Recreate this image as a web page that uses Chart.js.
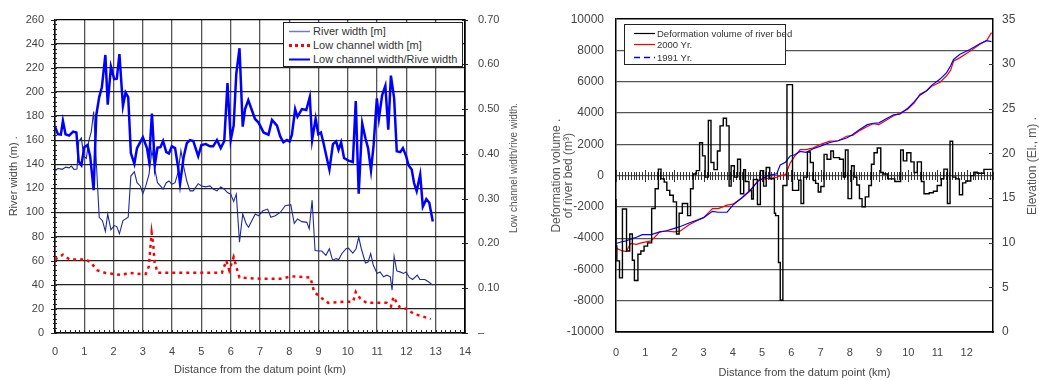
<!DOCTYPE html>
<html>
<head>
<meta charset="utf-8">
<script src="https://cdn.jsdelivr.net/npm/chart.js@4.4.0/dist/chart.umd.min.js"></script>
<style>
  body { margin: 0; background: #fff; width: 1039px; height: 380px; position: relative; overflow: hidden;
         font-family: "Liberation Sans", Arial, sans-serif; }
  canvas { position: absolute; top: 0; }
  #leftChart { left: 0; }
  #rightChart { left: 540px; }
  .legend { position: absolute; background: #fff; border: 1px solid #222; box-sizing: border-box; color: #333; }
  .legend .row { position: absolute; left: 0; white-space: nowrap; height: 13px; line-height: 13px; }
  .legend svg { position: absolute; top: 3px; }
  .legend span { position: absolute; }
</style>
</head>
<body>
<canvas id="leftChart" width="522" height="380"></canvas>
<canvas id="rightChart" width="499" height="380"></canvas>

<div class="legend" style="left:283px;top:22px;width:180px;height:45px;font-size:11px">
  <div class="row" style="top:2px"><svg width="24" height="7" style="left:5px"><line x1="0" y1="3.5" x2="21" y2="3.5" stroke="#6f7cc4" stroke-width="1.5"/></svg><span style="left:29px">River width [m]</span></div>
  <div class="row" style="top:16px"><svg width="24" height="7" style="left:5px"><line x1="0" y1="3.5" x2="21" y2="3.5" stroke="#ff0000" stroke-width="3" stroke-dasharray="3 3"/></svg><span style="left:29px">Low channel width [m]</span></div>
  <div class="row" style="top:30px"><svg width="24" height="7" style="left:5px"><line x1="0" y1="3.5" x2="21" y2="3.5" stroke="#0000ff" stroke-width="2"/></svg><span style="left:29px">Low channel width/Rive width</span></div>
</div>

<div class="legend" style="left:624px;top:24px;width:162px;height:41px;font-size:9.5px">
  <div class="row" style="top:2px"><svg width="24" height="7" style="left:9px"><line x1="0" y1="3.5" x2="21" y2="3.5" stroke="#000" stroke-width="1.2"/></svg><span style="left:32px">Deformation volume of river bed</span></div>
  <div class="row" style="top:13px"><svg width="24" height="7" style="left:9px"><line x1="0" y1="3.5" x2="21" y2="3.5" stroke="#ff0000" stroke-width="1.2"/></svg><span style="left:32px">2000 Yr.</span></div>
  <div class="row" style="top:26px"><svg width="24" height="7" style="left:9px"><line x1="0" y1="3.5" x2="21" y2="3.5" stroke="#0000ff" stroke-width="1.4" stroke-dasharray="6 4"/></svg><span style="left:32px">1991 Yr.</span></div>
</div>

<script>
// ---- left chart data (distance in km) ----
const ratioDist = [0, 0.1, 0.2, 0.27, 0.36, 0.48, 0.62, 0.73, 0.81, 0.9, 1.0, 1.11, 1.2, 1.32, 1.41, 1.51, 1.6, 1.72, 1.8, 1.91,
  2.02, 2.11, 2.2, 2.32, 2.41, 2.5, 2.59, 2.71, 2.8, 3.0, 3.14, 3.21, 3.31, 3.41, 3.5, 3.6, 3.69, 3.8, 3.89, 3.99,
  4.1, 4.2, 4.27, 4.39, 4.5, 4.61, 4.72, 4.89, 5.0, 5.15, 5.29, 5.4, 5.53, 5.66, 5.78, 5.89, 6.0, 6.1, 6.19, 6.3,
  6.41, 6.49, 6.6, 6.72, 6.83, 6.95, 7.12, 7.29, 7.41, 7.58, 7.69, 7.8, 7.92, 8.01, 8.09, 8.2, 8.28, 8.43, 8.58, 8.7,
  8.78, 8.9, 8.99, 9.08, 9.17, 9.28, 9.37, 9.49, 9.6, 9.68, 9.77, 9.87, 10.02, 10.17, 10.27, 10.37, 10.49, 10.6, 10.69, 10.79,
  10.88, 10.99, 11.06, 11.17, 11.28, 11.38, 11.47, 11.58, 11.67, 11.79, 11.88, 11.99, 12.07, 12.18, 12.26, 12.35, 12.47, 12.56, 12.68, 12.78, 12.9];
const ratio = [0.461, 0.444, 0.443, 0.474, 0.444, 0.441, 0.45, 0.448, 0.383, 0.375, 0.415, 0.42, 0.395, 0.319, 0.487, 0.527, 0.549, 0.621, 0.51, 0.595,
  0.567, 0.568, 0.623, 0.507, 0.537, 0.527, 0.402, 0.378, 0.413, 0.437, 0.413, 0.385, 0.49, 0.375, 0.414, 0.415, 0.429, 0.404, 0.401, 0.417,
  0.413, 0.372, 0.333, 0.392, 0.424, 0.431, 0.429, 0.395, 0.42, 0.422, 0.417, 0.417, 0.431, 0.413, 0.429, 0.558, 0.431, 0.463, 0.579, 0.636,
  0.461, 0.5, 0.52, 0.498, 0.478, 0.47, 0.448, 0.443, 0.476, 0.463, 0.439, 0.426, 0.431, 0.428, 0.443, 0.5, 0.483, 0.5, 0.498, 0.527,
  0.431, 0.479, 0.444, 0.448, 0.424, 0.391, 0.365, 0.422, 0.428, 0.409, 0.426, 0.391, 0.385, 0.382, 0.518, 0.311, 0.468, 0.435, 0.413, 0.363,
  0.42, 0.524, 0.479, 0.531, 0.552, 0.454, 0.575, 0.524, 0.406, 0.404, 0.413, 0.395, 0.375, 0.365, 0.335, 0.317, 0.354, 0.282, 0.299, 0.291, 0.249];

const riverDist = [0, 0.1, 0.25, 0.37, 0.48, 0.56, 0.65, 0.75, 0.81, 0.9, 0.98, 1.07, 1.15, 1.24, 1.32, 1.51, 1.62, 1.72, 1.8, 1.91,
  2.02, 2.11, 2.2, 2.32, 2.5, 2.59, 2.71, 2.8, 2.91, 3.0, 3.1, 3.21, 3.31, 3.41, 3.5, 3.6, 3.69, 3.8, 3.89, 3.99,
  4.1, 4.2, 4.3, 4.39, 4.5, 4.61, 4.72, 4.89, 5.0, 5.15, 5.29, 5.4, 5.53, 5.66, 5.78, 5.89, 6.0, 6.1, 6.19, 6.3,
  6.41, 6.53, 6.61, 6.72, 6.84, 6.95, 7.1, 7.26, 7.37, 7.52, 7.69, 7.86, 8.05, 8.17, 8.28, 8.43, 8.6, 8.68, 8.78, 8.88,
  8.99, 9.11, 9.25, 9.37, 9.48, 9.6, 9.69, 9.79, 9.94, 10.02, 10.17, 10.28, 10.37, 10.46, 10.6, 10.69, 10.78, 10.87, 11.0, 11.1,
  11.22, 11.33, 11.45, 11.51, 11.58, 11.67, 11.78, 11.9, 11.99, 12.1, 12.21, 12.37, 12.46, 12.63, 12.75, 12.9];
const riverWidth = [134.4, 136.6, 135.8, 137.6, 137, 138.5, 135.8, 136, 159, 161.8, 146.7, 144.8, 159, 167.3, 183.7, 96, 93.2, 84.4, 98.7, 85.6,
  89.1, 88.3, 82.3, 93.2, 96, 130.2, 133.8, 124.7, 122, 115.7, 122, 131.6, 151.6, 135.8, 124.7, 122, 119.3, 124.7, 126.1, 123.4,
  124.7, 133, 151.4, 138.5, 126.1, 117.9, 117.9, 123.9, 122, 121.2, 122, 119.5, 117.9, 121.2, 119.3, 116.5, 115.2, 109.1, 115.2, 75.4,
  98.7, 90.5, 87.7, 93.2, 98.7, 97.3, 101.4, 102.8, 96, 97.3, 100, 105.6, 106.4, 91, 94.6, 92.4, 91.8, 86.4, 110.2, 68.5,
  68, 68, 64.4, 69.9, 60.3, 61.7, 60.9, 65.8, 69.9, 70.4, 66.3, 69.9, 79.5, 69.9, 58.1, 58.9, 65.8, 56.2, 49.4, 50.7,
  46.6, 48, 46.6, 35.6, 63.6, 51.5, 50.7, 49.4, 50.7, 46.1, 44.4, 48, 44.4, 44.4, 42.5, 39.7];

const lowDist = [0, 0.27, 0.5, 0.8, 1.05, 1.2, 1.45, 1.7, 2.0, 2.3, 2.5, 2.9, 3.1, 3.2, 3.3, 3.36, 3.4, 3.5, 4.0, 5.0,
  5.7, 5.85, 5.95, 6.1, 6.2, 6.3, 7.0, 7.69, 8.09, 8.72, 8.85, 9.05, 9.33, 9.84, 10.18, 10.27, 10.41, 10.64, 11.33, 11.47,
  11.56, 11.65, 11.78, 12.01, 12.24, 12.52, 12.83];
const lowWidth = [61, 65, 61, 61, 61, 59, 52, 50, 49, 48, 50, 49, 49, 55, 83, 72, 59, 50, 50, 50,
  50, 60, 52, 63, 54, 46, 45, 45, 47, 46, 34, 30, 25, 26, 26, 34, 29, 25, 25, 22,
  30, 26, 21, 20, 16, 14, 11.5];

const leftXRange = [0, 14];     // km
const leftYRange = [0, 260];    // m
const ratioRange = [0, 0.7];

// ---- right chart data ----
const defDist = [0, 0.03, 0.12, 0.22, 0.36, 0.47, 0.56, 0.63, 0.75, 0.85, 0.96, 1.08, 1.22, 1.34, 1.45, 1.54, 1.65, 1.74, 1.84, 1.96,
  2.07, 2.16, 2.27, 2.45, 2.55, 2.64, 2.75, 2.86, 2.96, 3.05, 3.16, 3.25, 3.35, 3.47, 3.56, 3.67, 3.78, 3.87, 3.94, 4.05,
  4.16, 4.26, 4.37, 4.43, 4.55, 4.64, 4.70, 4.84, 4.94, 5.05, 5.14, 5.26, 5.42, 5.46, 5.56, 5.62, 5.71, 5.85, 6.04, 6.25,
  6.33, 6.42, 6.55, 6.65, 6.75, 6.83, 6.92, 7.01, 7.12, 7.22, 7.35, 7.44, 7.65, 7.78, 7.85, 7.94, 8.06, 8.15, 8.24, 8.33,
  8.42, 8.53, 8.65, 8.74, 8.83, 8.94, 9.06, 9.15, 9.3, 9.54, 9.74, 9.83, 9.95, 10.09, 10.2, 10.31, 10.45, 10.54, 10.72, 10.86,
  10.99, 11.13, 11.22, 11.34, 11.43, 11.52, 11.63, 11.75, 11.86, 11.97, 12.14, 12.25, 12.36, 12.59, 12.78, 12.9];
const defVolume = [-1500, -4500, -5450, -6540, -2140, -4820, -3730, -5410, -6710, -5030, -4820, -4510, -4300, -2100, -840, 415, -210, -420, -945, -1260,
  -1680, -3730, -2410, -1785, -2560, -840, 100, 315, 2100, 1260, -100, 3520, 840, 380, 1570, 3180, 3670, 3180, -670, 630,
  -100, 1045, -1160, 380, -380, -945, -1500, -250, -1850, 315, -670, 520, -200, -2410, -2560, -5560, -7970, -630, 5820, -945,
  -300, -1785, -100, 1510, 840, -315, -500, -1050, -700, 1360, 1050, 1570, 1150, 1050, -100, 1635, -1470, 630, -100, -600,
  -1470, -1990, -1360, -630, 730, 1465, 1760, 200, 100, -210, -380, 1635, 940, 1465, 880, 200, 880, -380, -1160, -1100,
  -1000, -630, -200, 415, -1785, 2200, -100, -210, -1220, -465, -350, 0, 210, 150, 400, 400];

const elevDist = [0, 0.2, 0.35, 0.5, 0.7, 0.9, 1.2, 1.5, 1.7, 2.0, 2.2, 2.5, 2.8, 3.0, 3.3, 3.5, 3.8, 4.0, 4.3, 4.6,
  4.87, 5.2, 5.5, 5.62, 5.8, 5.96, 6.1, 6.3, 6.5, 6.75, 7.0, 7.32, 7.6, 7.89, 8.1, 8.35, 8.6, 8.8, 9.0, 9.26,
  9.5, 9.71, 9.97, 10.2, 10.4, 10.63, 10.8, 11.09, 11.32, 11.45, 11.55, 11.77, 12.11, 12.45, 12.68, 12.85];
const elev1991 = [9.9, 10.1, 10.2, 10.4, 10.6, 10.9, 10.9, 11.2, 11.3, 11.6, 11.8, 12.2, 12.55, 12.8, 13.5, 13.4, 13.4, 14.2, 15.0, 15.9,
  16.9, 17.5, 17.7, 18.7, 19.0, 19.7, 19.8, 20.2, 20.1, 20.5, 20.8, 21.2, 21.4, 21.7, 22.1, 22.7, 23.2, 23.36, 23.4, 23.9,
  24.3, 24.36, 25.0, 25.75, 26.5, 27.0, 27.6, 28.3, 29.05, 29.8, 30.5, 31.07, 31.6, 32.25, 32.6, 32.5];
const elev2000 = [9.4, 9.1, 9.0, 9.9, 9.8, 10.0, 10.2, 11.2, 11.3, 11.2, 11.3, 12.0, 12.5, 12.8, 13.8, 13.8, 14.2, 14.3, 15.0, 15.8,
  17.0, 17.2, 17.3, 17.5, 17.6, 18.9, 19.6, 20.4, 20.4, 20.6, 21.0, 21.35, 21.4, 21.9, 22.0, 22.56, 23.0, 23.3, 23.2, 23.73,
  24.2, 24.5, 24.9, 25.6, 26.6, 27.0, 27.5, 27.95, 28.7, 29.3, 30.3, 30.7, 31.4, 32.2, 32.6, 33.5];

const rightXRange = [0, 12.9];
const rightXLabels = [0, 1, 2, 3, 4, 5, 6, 7, 8, 9, 10, 11, 12];
const defRange = [-10000, 10000];
const elevRange = [0, 35];

const FONT = '"Liberation Sans", Arial, sans-serif';
const pts = (xs, ys) => xs.map((x, i) => ({ x, y: ys[i] }));

function rotatedText(ctx, text, x, y, size, color) {
    ctx.save();
    ctx.translate(x, y);
    ctx.rotate(-Math.PI / 2);
    ctx.font = size + 'px ' + FONT;
    ctx.fillStyle = color;
    ctx.textAlign = 'center';
    ctx.textBaseline = 'middle';
    ctx.fillText(text, 0, 0);
    ctx.restore();
}

// minor ticks and right-hand title of the left chart
const leftDecor = {
    id: 'leftDecor',
    afterDraw(chart) {
        const { ctx, chartArea: a, scales: { x, y, y2 } } = chart;
        ctx.save();
        ctx.strokeStyle = '#222';
        ctx.lineWidth = 1;
        ctx.beginPath();
        for (let v = 0; v <= 260; v += 4) {
            const py = Math.round(y.getPixelForValue(v)) + 0.5;
            const len = v % 20 === 0 ? 4 : 2;
            ctx.moveTo(a.left - len, py); ctx.lineTo(a.left + 2, py);
        }
        for (let i = 0; i <= 14 * 6; i++) {
            const px = Math.round(x.getPixelForValue(i / 6)) + 0.5;
            ctx.moveTo(px, a.bottom); ctx.lineTo(px, a.bottom - 3);
        }
        for (let i = 0; i <= 7; i++) {
            const py = Math.round(y2.getPixelForValue(i / 10)) + 0.5;
            ctx.moveTo(a.right - 3, py); ctx.lineTo(a.right + 3, py);
        }
        ctx.stroke();
        ctx.restore();
        rotatedText(ctx, 'Low channel width/rive width.', 514, 168, 10, '#555');
    }
};

// hatched zero line and right-hand title of the right chart
const rightDecor = {
    id: 'rightDecor',
    beforeDatasetsDraw(chart) {
        const { ctx, chartArea: a, scales: { x, y, y2 } } = chart;
        const py0 = Math.round(y.getPixelForValue(0));
        ctx.save();
        ctx.strokeStyle = '#333';
        ctx.lineWidth = 1;
        ctx.beginPath();
        for (let i = 0; i <= 129; i++) {
            const px = Math.round(x.getPixelForValue(i / 10)) + 0.5;
            const len = i % 10 === 0 ? 6 : 4;
            ctx.moveTo(px, py0 - len); ctx.lineTo(px, py0 + len);
        }
        for (let v = 5; v < 35; v += 5) {
            const py = Math.round(y2.getPixelForValue(v)) + 0.5;
            ctx.moveTo(a.right - 4, py); ctx.lineTo(a.right, py);
        }
        ctx.stroke();
        ctx.restore();
    },
    afterDraw(chart) {
        rotatedText(chart.ctx, 'Elevation (El., m) .', 493, 166, 12, '#555');
    }
};

const tickFont = { family: FONT, size: 11 };
const titleFont = { family: FONT, size: 11 };

new Chart(document.getElementById('leftChart'), {
    type: 'line',
    data: {
        datasets: [
            {
                label: 'Low channel width/Rive width',
                data: pts(ratioDist, ratio),
                yAxisID: 'y2',
                borderColor: '#0000ff',
                borderWidth: 2.5,
                order: 1
            },
            {
                label: 'River width [m]',
                data: pts(riverDist, riverWidth),
                yAxisID: 'y',
                borderColor: '#1f2a9a',
                borderWidth: 1.1,
                order: 2
            },
            {
                label: 'Low channel width [m]',
                data: pts(lowDist, lowWidth),
                yAxisID: 'y',
                borderColor: '#ff0000',
                borderWidth: 2.5,
                borderDash: [3, 4],
                order: 3
            }
        ]
    },
    options: {
        responsive: false,
        animation: false,
        events: [],
        layout: { padding: { top: 17, left: 0, right: 0, bottom: 0 } },
        elements: { point: { radius: 0 }, line: { tension: 0 } },
        plugins: { legend: { display: false }, tooltip: { enabled: false } },
        scales: {
            x: {
                type: 'linear',
                min: leftXRange[0],
                max: leftXRange[1],
                afterFit: s => { s.height = 47; },
                ticks: { stepSize: 1, color: '#444', font: tickFont, padding: 12, maxRotation: 0 },
                grid: {
                    color: c => c.tick && c.tick.value === 14 ? '#000' : '#555',
                    lineWidth: c => c.tick && c.tick.value === 14 ? 1.5 : 1.3,
                    drawTicks: false
                },
                border: { color: '#000', width: 1.5 },
                title: { display: true, text: 'Distance from the datum point (km)', color: '#444', font: titleFont, padding: { top: 0, bottom: 3 } }
            },
            y: {
                position: 'left',
                min: leftYRange[0],
                max: leftYRange[1],
                afterFit: s => { s.width = 55; },
                ticks: { stepSize: 20, color: '#444', font: tickFont, padding: 11 },
                grid: {
                    color: c => c.tick && c.tick.value === 260 ? '#000' : '#222',
                    lineWidth: 1.2,
                    drawTicks: false
                },
                border: { color: '#000', width: 1.5 },
                title: { display: true, text: 'River width (m) .', color: '#444', font: titleFont, padding: { top: 7, bottom: 0 } }
            },
            y2: {
                position: 'right',
                min: ratioRange[0],
                max: ratioRange[1],
                afterFit: s => { s.width = 57; },
                ticks: {
                    stepSize: 0.1,
                    color: '#444',
                    font: tickFont,
                    padding: 13,
                    callback: v => Math.abs(v) < 1e-9 ? '–' : v.toFixed(2)
                },
                grid: { drawOnChartArea: false, drawTicks: false },
                border: { color: '#000', width: 1.5 }
            }
        }
    },
    plugins: [leftDecor]
});

new Chart(document.getElementById('rightChart'), {
    type: 'line',
    data: {
        datasets: [
            {
                label: 'Deformation volume of river bed',
                data: pts(defDist, defVolume),
                yAxisID: 'y',
                stepped: 'after',
                borderColor: '#000',
                borderWidth: 1.4,
                order: 1
            },
            {
                label: '2000 Yr.',
                data: pts(elevDist, elev2000),
                yAxisID: 'y2',
                borderColor: '#ff0000',
                borderWidth: 1.2,
                order: 3
            },
            {
                label: '1991 Yr.',
                data: pts(elevDist, elev1991),
                yAxisID: 'y2',
                borderColor: '#0000ff',
                borderWidth: 1.2,
                order: 2
            }
        ]
    },
    options: {
        responsive: false,
        animation: false,
        events: [],
        layout: { padding: { top: 14, left: 0, right: 0, bottom: 0 } },
        elements: { point: { radius: 0 }, line: { tension: 0 } },
        plugins: { legend: { display: false }, tooltip: { enabled: false } },
        scales: {
            x: {
                type: 'linear',
                min: rightXRange[0],
                max: rightXRange[1],
                afterFit: s => { s.height = 48; },
                afterBuildTicks: s => { s.ticks = rightXLabels.map(v => ({ value: v })); },
                ticks: { color: '#444', font: tickFont, padding: 14, maxRotation: 0, autoSkip: false },
                grid: { display: false, drawTicks: false },
                border: { color: '#000', width: 1.5 },
                title: { display: true, text: 'Distance from the datum point (km)', color: '#444', font: titleFont, padding: { top: 0, bottom: 0 } }
            },
            y: {
                position: 'left',
                min: defRange[0],
                max: defRange[1],
                afterFit: s => { s.width = 76; },
                ticks: { stepSize: 2000, color: '#444', font: { family: FONT, size: 12 }, padding: 12, callback: v => String(v) },
                grid: {
                    color: c => c.tick && Math.abs(c.tick.value) === 10000 ? '#000' : '#555',
                    lineWidth: c => c.tick && Math.abs(c.tick.value) === 10000 ? 1.5 : 1.3,
                    drawTicks: false
                },
                border: { color: '#000', width: 1.5 },
                title: {
                    display: true,
                    text: ['Deformation volume .', 'of river bed (m³)'],
                    color: '#555',
                    font: { family: FONT, size: 12, lineHeight: 1.05 },
                    padding: { top: 10, bottom: 0 }
                }
            },
            y2: {
                position: 'right',
                min: elevRange[0],
                max: elevRange[1],
                afterFit: s => { s.width = 46; },
                ticks: { stepSize: 5, color: '#444', font: { family: FONT, size: 12 }, padding: 9 },
                grid: { drawOnChartArea: false, drawTicks: false },
                border: { color: '#000', width: 1.5 }
            }
        }
    },
    plugins: [rightDecor]
});
</script>
</body>
</html>
